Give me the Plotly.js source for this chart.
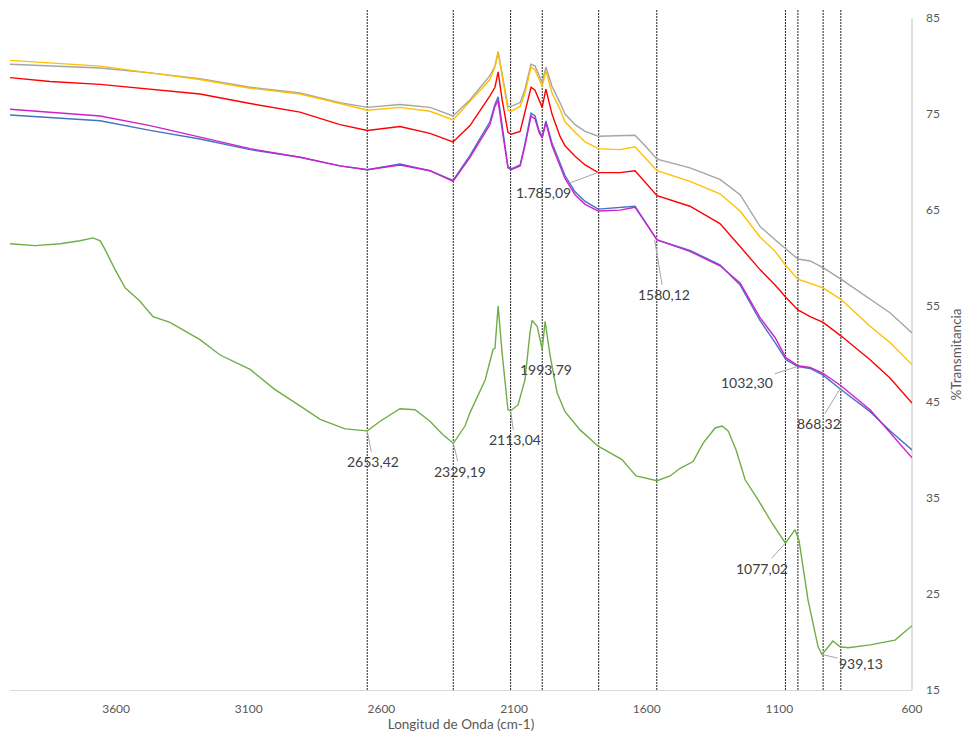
<!DOCTYPE html>
<html>
<head>
<meta charset="utf-8">
<script src="https://cdn.plot.ly/plotly-3.0.1.min.js"></script>
<style>
  html, body { margin: 0; padding: 0; background: #ffffff; }
  #chart { width: 965px; height: 735px; }
</style>
</head>
<body>
<div id="chart"></div>
<script>
// ---- Data (wavenumber in cm-1, %Transmitancia) ----
const wavenumbers = [4000, 3849, 3660, 3472, 3284, 3095, 2907, 2756, 2653, 2530, 2417, 2330, 2266, 2191, 2172, 2160, 2145, 2123, 2111, 2077, 2059, 2036, 2021, 2006, 1994, 1980, 1957, 1927, 1908, 1870, 1832, 1783, 1701, 1644, 1606, 1561, 1437, 1324, 1248, 1173, 1116, 1075, 1030, 984, 935, 868, 758, 683, 600];

const graySeries   = [80.2, 80.0, 79.8, 79.3, 78.7, 77.8, 77.2, 76.2, 75.7, 76.0, 75.7, 74.8, 76.5, 79.0, 80.0, 81.5, 79.3, 75.8, 75.8, 76.2, 77.6, 80.2, 80.0, 79.0, 78.3, 79.9, 77.9, 76.2, 75.0, 73.9, 73.2, 72.7, 72.8, 72.8, 71.7, 70.3, 69.4, 68.2, 66.6, 63.3, 61.9, 60.9, 59.9, 59.7, 59.0, 57.8, 55.7, 54.3, 52.2];
const yellowSeries = [80.6, 80.3, 80.0, 79.3, 78.6, 77.7, 77.1, 76.1, 75.4, 75.7, 75.3, 74.4, 76.3, 78.6, 79.9, 81.4, 79.0, 75.4, 75.3, 75.8, 77.2, 79.9, 79.6, 78.6, 77.9, 79.5, 77.2, 75.5, 74.2, 73.1, 72.1, 71.4, 71.3, 71.6, 70.5, 69.1, 68.0, 66.7, 64.9, 62.2, 60.7, 59.2, 57.8, 57.4, 56.9, 55.7, 52.9, 51.2, 48.9];
const redSeries    = [78.8, 78.4, 78.1, 77.6, 77.1, 76.1, 75.2, 73.9, 73.3, 73.7, 73.0, 72.1, 73.8, 76.9, 77.8, 79.4, 76.5, 73.1, 72.9, 73.2, 75.2, 77.8, 77.5, 76.5, 75.7, 77.6, 75.0, 72.7, 71.7, 70.6, 69.7, 68.9, 68.9, 69.1, 67.9, 66.5, 65.4, 63.6, 61.2, 58.8, 57.2, 55.9, 54.6, 53.9, 53.3, 51.9, 49.4, 47.5, 44.9];
const blueSeries   = [74.9, 74.6, 74.3, 73.3, 72.4, 71.3, 70.5, 69.6, 69.2, 69.8, 69.1, 68.1, 70.7, 74.2, 76.0, 76.8, 73.7, 69.5, 69.3, 69.7, 71.9, 75.1, 74.8, 73.3, 72.6, 74.3, 72.0, 69.9, 68.6, 66.9, 65.9, 65.1, 65.3, 65.4, 63.8, 61.9, 60.8, 59.3, 57.2, 53.5, 51.2, 49.4, 48.7, 48.5, 47.8, 46.3, 44.0, 42.0, 40.0];
const purpleSeries = [75.5, 75.2, 74.8, 73.8, 72.6, 71.4, 70.5, 69.6, 69.2, 69.7, 69.1, 68.0, 70.5, 73.9, 75.8, 76.4, 73.4, 69.4, 69.2, 69.6, 71.7, 74.8, 74.5, 73.1, 72.5, 74.1, 71.7, 69.6, 68.3, 66.6, 65.6, 64.9, 65.0, 65.3, 63.7, 61.9, 60.7, 59.2, 57.4, 53.8, 51.7, 49.6, 48.8, 48.6, 48.0, 46.7, 44.2, 41.8, 39.2];

const greenWavenumbers = [4000, 3905, 3811, 3736, 3687, 3660, 3642, 3604, 3566, 3510, 3461, 3397, 3284, 3208, 3095, 3001, 2907, 2831, 2737, 2653, 2605, 2530, 2473, 2417, 2368, 2329, 2285, 2266, 2209, 2179, 2172, 2160, 2145, 2123, 2113, 2085, 2059, 2040, 2032, 2013, 1994, 1983, 1964, 1938, 1908, 1851, 1783, 1693, 1640, 1561, 1512, 1474, 1425, 1388, 1342, 1316, 1293, 1263, 1229, 1184, 1128, 1077, 1041, 1026, 992, 954, 939, 898, 871, 841, 758, 664, 600];
const greenSeries = [61.5, 61.3, 61.5, 61.8, 62.1, 61.8, 60.9, 58.8, 56.9, 55.5, 53.9, 53.3, 51.5, 49.9, 48.4, 46.3, 44.6, 43.2, 42.2, 42.0, 43.0, 44.3, 44.2, 43.0, 41.6, 40.7, 42.5, 43.9, 47.3, 50.5, 50.6, 55.0, 50.1, 44.2, 44.1, 44.7, 47.3, 52.2, 53.5, 52.9, 50.5, 53.4, 49.8, 46.0, 44.0, 42.1, 40.4, 39.0, 37.3, 36.8, 37.3, 38.1, 38.8, 40.7, 42.3, 42.5, 42.0, 40.0, 36.9, 35.0, 32.4, 30.3, 31.7, 30.6, 24.4, 19.5, 18.7, 20.1, 19.5, 19.4, 19.7, 20.2, 21.7];

// Reference marker lines (cm-1)
const markerLines = [2653.42, 2329.19, 2113.04, 1993.79, 1781, 1562, 1077.02, 1030, 935, 868.32];

// Peak labels
const labelTexts = ["2653,42", "2329,19", "2113,04", "1993,79", "1.785,09", "1580,12", "1032,30", "868,32", "1077,02", "939,13"];
const labelX     = [2653.42, 2329.19, 2113.04, 1993.79, 1785.09, 1570, 1032.30, 868.32, 1077.02, 939.13];
const labelY     = [42.0, 40.7, 44.1, 50.5, 68.9, 61.9, 48.7, 46.5, 30.3, 18.7];

const xTicks = [3600, 3100, 2600, 2100, 1600, 1100, 600];
const yTicks = [15, 25, 35, 45, 55, 65, 75, 85];

const xTitle = 'Longitud de Onda (cm-1)';
const yTitle = '%Transmitancia';

// ---- Styling / layout ----
const labelOffsets = [[6, 31], [7, 28], [4, 29], [4, 20], [-54, 20], [9, 55], [-50, 16], [-22, 36], [-23, 25], [39, 9]];
const labelArrow   = [true, true, true, false, true, true, true, true, true, true];

function line(x, y, color, name) {
  return { type: 'scatter', mode: 'lines', x: x, y: y, name: name,
           line: { color: color, width: 1.4 }, hoverinfo: 'skip' };
}

const traces = [
  line(greenWavenumbers, greenSeries, '#70AD47', 'verde'),
  line(wavenumbers, graySeries, '#A5A5A5', 'gris'),
  line(wavenumbers, yellowSeries, '#FFC000', 'amarillo'),
  line(wavenumbers, redSeries, '#FF0000', 'rojo'),
  line(wavenumbers, blueSeries, '#4472C4', 'azul'),
  line(wavenumbers, purpleSeries, '#CC22CC', 'morado')
];

const shapes = markerLines.map(v => ({
  type: 'line', xref: 'x', yref: 'paper', x0: v, x1: v, y0: 0, y1: 1,
  line: { color: '#222222', width: 1, dash: '2px,1px' }, layer: 'below'
}));
shapes.push({
  type: 'line', xref: 'paper', yref: 'y', x0: 1, x1: 1, y0: 15, y1: 85,
  line: { color: '#BFBFBF', width: 1 }, layer: 'below'
});

const annotations = labelTexts.map((t, i) => {
  const a = {
    x: labelX[i], y: labelY[i], xref: 'x', yref: 'y', text: t,
    font: { family: 'Lato, "Open Sans", sans-serif', size: 14, color: '#404040' }
  };
  if (labelArrow[i]) {
    Object.assign(a, { showarrow: true, arrowhead: 0, arrowwidth: 1, arrowcolor: '#A6A6A6',
      ax: labelOffsets[i][0], ay: labelOffsets[i][1], standoff: 0, startstandoff: 0 });
  } else {
    Object.assign(a, { showarrow: false, xshift: labelOffsets[i][0], yshift: -labelOffsets[i][1] });
  }
  return a;
});
// y-axis title drawn as rotated text on the right
annotations.push({
  xref: 'paper', yref: 'paper', x: 1, y: 0.5, xanchor: 'center', yanchor: 'middle',
  xshift: 43, yshift: -5, textangle: -90, showarrow: false, text: yTitle,
  font: { family: 'Lato, "Open Sans", sans-serif', size: 13.5, color: '#595959' }
});

const layout = {
  width: 965, height: 735,
  margin: { l: 10, r: 53, t: 9, b: 45, pad: 0 },
  paper_bgcolor: '#ffffff', plot_bgcolor: '#ffffff',
  showlegend: false,
  font: { family: 'Lato, "Open Sans", sans-serif', color: '#595959' },
  xaxis: {
    range: [4000, 600], tickvals: xTicks, ticktext: xTicks.map(String),
    showgrid: false, zeroline: false, showline: true, linecolor: '#D9D9D9', linewidth: 1,
    ticks: '', tickfont: { size: 12, color: '#595959' }, automargin: false,
    ticklabelstandoff: 8,
    title: { text: xTitle, font: { size: 13.5, color: '#595959' }, standoff: 1 }
  },
  yaxis: {
    side: 'right', range: [15, 85.95], tickvals: yTicks, ticktext: yTicks.map(String),
    showgrid: false, zeroline: false, showline: false,
    ticks: '', tickfont: { size: 12, color: '#595959' }, automargin: false,
    ticklabelstandoff: 13
  },
  shapes: shapes,
  annotations: annotations
};

Plotly.newPlot('chart', traces, layout, { displayModeBar: false, staticPlot: true });
</script>
</body>
</html>
